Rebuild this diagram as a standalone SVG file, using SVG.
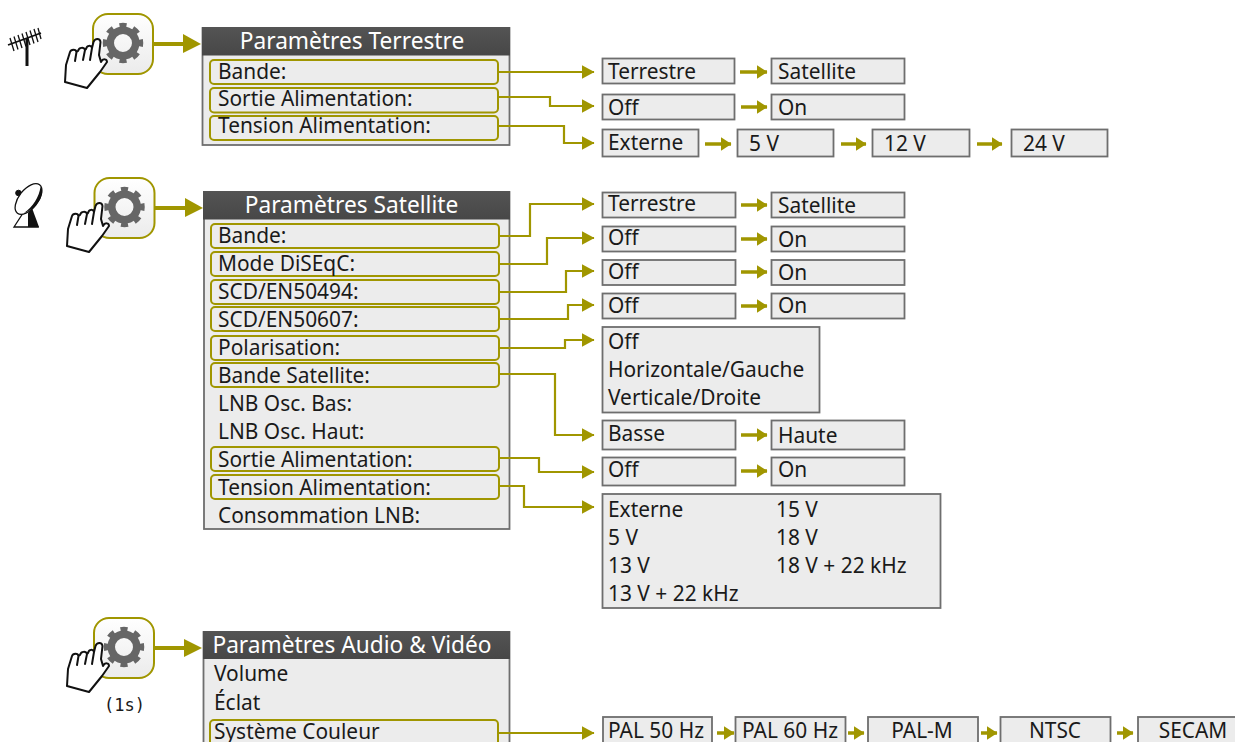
<svg xmlns="http://www.w3.org/2000/svg" width="1235" height="742" viewBox="0 0 1235 742">
<style>
text{font-family:"Noto Sans","Open Sans",sans-serif;font-size:20.900px;fill:#1a1a1a}
.t{fill:#fff;font-size:22.700px}
.box{fill:#ececec;stroke:#6e6e6e;stroke-width:1.800}
.hl{fill:none;stroke:#a09600;stroke-width:2}
.c{fill:none;stroke:#a09600;stroke-width:2.200}
.a{fill:none;stroke:#a09600;stroke-width:3.500}
.b{fill:none;stroke:#a09600;stroke-width:4}
.head{fill:#a09600}
.g1{fill:none;stroke:#666;stroke-width:7.500}
.g2{fill:none;stroke:#666;stroke-width:4.500}
</style>
<defs>
<linearGradient id="bg" x1="0" y1="0" x2="0" y2="1"><stop offset="0" stop-color="#fff"/><stop offset="1" stop-color="#ebebeb"/></linearGradient>
<linearGradient id="tg" x1="0" y1="0" x2="0" y2="1"><stop offset="0" stop-color="#545454"/><stop offset="1" stop-color="#474747"/></linearGradient>
<marker id="m" markerUnits="userSpaceOnUse" markerWidth="13" markerHeight="14" refX="12.500" refY="7" orient="auto"><path d="M0,0L13,7L0,14Z" fill="#a09600"/></marker>
<marker id="s" markerUnits="userSpaceOnUse" markerWidth="11" markerHeight="14" refX="10.500" refY="7" orient="auto"><path d="M0,0L11,7L0,14Z" fill="#a09600"/></marker>
<g id="btn">
<rect x="93" y="14" width="60" height="60" rx="15" fill="url(#bg)" stroke="#a09600" stroke-width="2"/>
<circle class="g1" cx="123" cy="43" r="12.750"/>
<circle class="g2" cx="123" cy="43" r="18" pathLength="8" stroke-dasharray="0.500 0.500" transform="rotate(-11.250 123 43)"/>
</g>
<path id="hand" fill="#fff" stroke="#111" stroke-width="2" stroke-linejoin="round" stroke-linecap="round" d="M65,82L66,65 70,52C71,49 76,49 76.500,52L78,51C79,47 84,47 85,50L86,49C87,45 91,45 92,48L93.500,42C95,38 100,38 100.500,42L99,55 101,62C103,58 107,59 107,62L100,72 87,88Z M76.500,52L75,61 M85,50L83,60 M92,48L90,60"/>
</defs>

<g id="icon-antenna" stroke="#111" fill="none">
<path d="M27,38V66" stroke-width="3"/>
<path d="M8,45L41,33" stroke-width="1.800"/>
<path stroke-width="1.300" d="M10,38l4,13M14,36.500l4,13M18,35l4,13M22,33.500l4,13M26,32l4,13M30,30.500l4,13M34,29l4,13M38,28l3,11"/>
</g>
<g id="icon-dish" stroke="#111" fill="none">
<path d="M14,227L27,207 38,227Z" fill="#fff" stroke-width="1.300"/>
<path d="M28,213L32,208 39,227H28Z" fill="#111" stroke="none"/>
<path d="M18,193L29,207" stroke-width="1.500"/>
<circle cx="18.500" cy="193" r="2.800" fill="#111"/>
<ellipse cx="28.500" cy="199" rx="18" ry="9.500" transform="rotate(-52 28.500 199)" fill="#fff" stroke-width="1.300"/>
<path d="M40.500,187C44,190 42,198 37,204 33,209 27,212 24,213 33,207 39,197 40.500,187Z" fill="#111" stroke="none"/>
</g>

<g id="button-1"><use href="#btn"/><use href="#hand"/></g>
<g id="button-2"><use href="#btn" x="1.500" y="164"/><use href="#hand" x="2" y="164"/></g>
<g id="button-3"><use href="#btn" x="1" y="604"/><use href="#hand" x="2" y="604"/><text x="104" y="711" style="font-size:17px;font-family:'DejaVu Sans Mono',monospace">(1s)</text></g>

<g id="menu-terrestre">
<rect class="box" x="202.500" y="28" width="307" height="117"/>
<rect x="202" y="27" width="308" height="28.500" fill="url(#tg)"/>
<text class="t" x="352" y="49" text-anchor="middle">Paramètres Terrestre</text>
<rect class="hl" x="210" y="60" width="288" height="24" rx="4"/>
<rect class="hl" x="210" y="88" width="288" height="24.500" rx="4"/>
<rect class="hl" x="210" y="116" width="288" height="24" rx="4"/>
<text x="218" y="79">Bande:</text>
<text x="218" y="106">Sortie Alimentation:</text>
<text x="218" y="133">Tension Alimentation:</text>
</g>
<g id="terrestre-options">
<rect class="box" x="602.500" y="58.500" width="132" height="25"/><text x="608" y="79">Terrestre</text>
<rect class="box" x="771.500" y="58.500" width="133" height="25"/><text x="778" y="79">Satellite</text>
<rect class="box" x="602.500" y="94.500" width="132" height="25"/><text x="608" y="115">Off</text>
<rect class="box" x="771.500" y="94.500" width="133" height="25"/><text x="778" y="115">On</text>
<rect class="box" x="602.500" y="129.500" width="96" height="27"/><text x="608" y="150">Externe</text>
<rect class="box" x="737.500" y="129.500" width="96" height="27"/><text x="749" y="151">5 V</text>
<rect class="box" x="872.500" y="129.500" width="97" height="27"/><text x="884" y="151">12 V</text>
<rect class="box" x="1011.500" y="129.500" width="96" height="27"/><text x="1023" y="151">24 V</text>
</g>

<g id="menu-satellite">
<rect class="box" x="204" y="192" width="305.500" height="337"/>
<rect x="203" y="191" width="307" height="28.500" fill="url(#tg)"/>
<text class="t" x="351.500" y="213" text-anchor="middle">Paramètres Satellite</text>
<rect class="hl" x="211" y="224" width="288" height="24" rx="4"/>
<rect class="hl" x="211" y="252" width="288" height="24" rx="4"/>
<rect class="hl" x="211" y="280" width="288" height="24" rx="4"/>
<rect class="hl" x="211" y="307" width="288" height="24" rx="4"/>
<rect class="hl" x="211" y="336" width="288" height="24" rx="4"/>
<rect class="hl" x="211" y="363" width="288" height="24" rx="4"/>
<rect class="hl" x="211" y="447" width="288" height="24" rx="4"/>
<rect class="hl" x="211" y="475" width="288" height="24" rx="4"/>
<text x="218" y="243">Bande:</text>
<text x="218" y="271">Mode DiSEqC:</text>
<text x="218" y="299">SCD/EN50494:</text>
<text x="218" y="327">SCD/EN50607:</text>
<text x="218" y="355">Polarisation:</text>
<text x="218" y="383">Bande Satellite:</text>
<text x="218" y="411">LNB Osc. Bas:</text>
<text x="218" y="439">LNB Osc. Haut:</text>
<text x="218" y="467">Sortie Alimentation:</text>
<text x="218" y="495">Tension Alimentation:</text>
<text x="218" y="523">Consommation LNB:</text>
</g>
<g id="satellite-options">
<rect class="box" x="602.500" y="192.500" width="133" height="25"/><text x="608" y="211">Terrestre</text>
<rect class="box" x="771.500" y="192.500" width="133" height="25"/><text x="778" y="213">Satellite</text>
<rect class="box" x="602.500" y="226.500" width="133" height="25"/><text x="608" y="245">Off</text>
<rect class="box" x="771.500" y="226.500" width="133" height="25"/><text x="778" y="247">On</text>
<rect class="box" x="602.500" y="260" width="133" height="25"/><text x="608" y="279">Off</text>
<rect class="box" x="771.500" y="260" width="133" height="25"/><text x="778" y="280">On</text>
<rect class="box" x="602.500" y="293.500" width="133" height="25"/><text x="608" y="313">Off</text>
<rect class="box" x="771.500" y="293.500" width="133" height="25"/><text x="778" y="313">On</text>
<rect class="box" x="602.500" y="327" width="217" height="85.500"/>
<text x="608" y="349">Off</text><text x="608" y="377">Horizontale/Gauche</text><text x="608" y="405">Verticale/Droite</text>
<rect class="box" x="602.500" y="420.500" width="133" height="29"/><text x="608" y="441">Basse</text>
<rect class="box" x="771.500" y="420.500" width="133" height="29"/><text x="778" y="443">Haute</text>
<rect class="box" x="602.500" y="457.500" width="133" height="28"/><text x="608" y="477">Off</text>
<rect class="box" x="771.500" y="457.500" width="133" height="28"/><text x="778" y="477">On</text>
<rect class="box" x="602.500" y="494" width="338" height="114"/>
<text x="608" y="517">Externe</text><text x="608" y="545">5 V</text><text x="608" y="573">13 V</text><text x="608" y="601">13 V + 22 kHz</text>
<text x="776" y="517">15 V</text><text x="776" y="545">18 V</text><text x="776" y="573">18 V + 22 kHz</text>
</g>

<g id="menu-audio-video">
<rect class="box" x="203.500" y="632" width="306" height="120"/>
<rect x="203" y="631" width="307" height="28" fill="url(#tg)"/>
<text class="t" x="352" y="653" text-anchor="middle">Paramètres Audio &amp; Vidéo</text>
<text x="214" y="681">Volume</text>
<text x="214" y="710">Éclat</text>
<rect class="hl" x="210" y="720" width="288" height="30" rx="4"/>
<text x="214" y="739">Système Couleur</text>
</g>
<g id="audio-video-options">
<rect class="box" x="603" y="717" width="109" height="30"/><text x="608" y="738">PAL 50 Hz</text>
<rect class="box" x="735.500" y="717" width="110" height="30"/><text x="742" y="738">PAL 60 Hz</text>
<rect class="box" x="868" y="717" width="110" height="30"/><text x="922" y="738" text-anchor="middle">PAL-M</text>
<rect class="box" x="1000.500" y="717" width="110" height="30"/><text x="1055" y="738" text-anchor="middle">NTSC</text>
<rect class="box" x="1138" y="717" width="100" height="30"/><text x="1193" y="738" text-anchor="middle">SECAM</text>
</g>

<g id="connectors">
<path class="b" d="M153,44H184"/><path class="head" d="M183,34L201,44 183,53Z"/>
<path class="b" d="M155,208H186"/><path class="head" d="M185,198L203,208 185,217Z"/>
<path class="b" d="M154,648H186"/><path class="head" d="M184,639L202,648 184,657Z"/>

<path class="c" marker-end="url(#m)" d="M498,72H594"/>
<path class="c" marker-end="url(#m)" d="M498,97H550V106H594"/>
<path class="c" marker-end="url(#m)" d="M498,126H564V143H594"/>
<path class="c" marker-end="url(#m)" d="M499,236H530V204H594"/>
<path class="c" marker-end="url(#m)" d="M499,264H547V238H594"/>
<path class="c" marker-end="url(#m)" d="M499,292H566V271H594"/>
<path class="c" marker-end="url(#m)" d="M499,319H568V305H594"/>
<path class="c" marker-end="url(#m)" d="M499,348H565V340H594"/>
<path class="c" marker-end="url(#m)" d="M499,374H555V435H594"/>
<path class="c" marker-end="url(#m)" d="M499,458H539V472H594"/>
<path class="c" marker-end="url(#m)" d="M499,486H524V507H594"/>
<path class="c" marker-end="url(#m)" d="M498,733H594"/>

<path class="a" marker-end="url(#s)" d="M740,72H767"/>
<path class="a" marker-end="url(#s)" d="M741,107H767"/>
<path class="a" marker-end="url(#s)" d="M705,144H731"/>
<path class="a" marker-end="url(#s)" d="M841,144H866"/>
<path class="a" marker-end="url(#s)" d="M977,144H1002"/>
<path class="a" marker-end="url(#s)" d="M741,205H767"/>
<path class="a" marker-end="url(#s)" d="M741,239H767"/>
<path class="a" marker-end="url(#s)" d="M741,272H767"/>
<path class="a" marker-end="url(#s)" d="M741,306H767"/>
<path class="a" marker-end="url(#s)" d="M741,435H767"/>
<path class="a" marker-end="url(#s)" d="M741,471H767"/>
<path class="a" marker-end="url(#s)" d="M717,733H734"/>
<path class="a" marker-end="url(#s)" d="M848,733H864"/>
<path class="a" marker-end="url(#s)" d="M981,733H997"/>
<path class="a" marker-end="url(#s)" d="M1117,733H1133"/>
</g>
</svg>
